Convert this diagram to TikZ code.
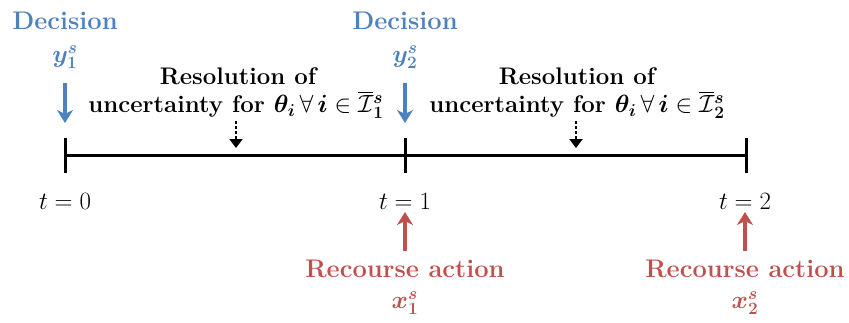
\documentclass[tikz,border=0pt]{standalone}
\usepackage{amsmath,amssymb,bm}
\usetikzlibrary{arrows.meta}
\definecolor{decblue}{RGB}{79,129,189}
\definecolor{recred}{RGB}{192,80,77}
\tikzset{
  lbl/.style={font=\fontsize{25.5}{28}\selectfont\bfseries, inner sep=0pt, anchor=center},
  res/.style={font=\fontsize{24}{27}\selectfont\bfseries, inner sep=0pt, anchor=center},
  mth/.style={font=\fontsize{27}{30}\selectfont, inner sep=0pt, anchor=center},
  tm/.style={font=\fontsize{28}{30}\selectfont, inner sep=0pt, anchor=center},
  axis/.style={line width=3pt},
  tick/.style={line width=3pt},
  decarrow/.style={draw=decblue, line width=4pt, -{Stealth[length=13pt,width=16pt,inset=4pt]}},
  recarrow/.style={draw=recred, line width=4pt, -{Stealth[length=13pt,width=16pt,inset=4pt]}},
  resarrow/.style={line width=2.5pt, dash pattern=on 2.5pt off 2.5pt, -{Triangle[length=9pt,width=13pt]}},
}
\begin{document}
\begin{tikzpicture}[x=1pt,y=-1pt]
\useasboundingbox (0,0) rectangle (849,322);
% timeline
\coordinate (T0) at (65,155);
\coordinate (T1) at (405,155);
\coordinate (T2) at (746,155);
\draw[axis] (T0) -- (T2);
\foreach \n in {T0,T1,T2}{\draw[tick] ([yshift=-18pt]\n) -- ([yshift=17pt]\n);}
% decisions
\node[lbl, text=decblue] (dec1) at (65,21) {Decision};
\node[mth, text=decblue] (y1) at (65,57) {$\bm{y_1^s}$};
\node[lbl, text=decblue] (dec2) at (405,21) {Decision};
\node[mth, text=decblue] (y2) at (405,57) {$\bm{y_2^s}$};
\coordinate (a1s) at (65,83);
\coordinate (a1e) at (65,123);
\coordinate (a2s) at (405,83);
\coordinate (a2e) at (405,123);
\draw[decarrow] (a1s) -- (a1e);
\draw[decarrow] (a2s) -- (a2e);
% resolution
\node[res] (res1) at (238,76) {Resolution of};
\node[res] (unc1) at (236,105) {uncertainty for $\bm{\theta_i}\,\forall\,\bm{i}\in\overline{\mathcal{I}}{}_{\bm{1}}^{\bm{s}}$};
\node[res] (res2) at (577,76) {Resolution of};
\node[res] (unc2) at (577,105) {uncertainty for $\bm{\theta_i}\,\forall\,\bm{i}\in\overline{\mathcal{I}}{}_{\bm{2}}^{\bm{s}}$};
\coordinate (r1s) at (236,121);
\coordinate (r1e) at (236,148);
\coordinate (r2s) at (576,121);
\coordinate (r2e) at (576,148);
\draw[resarrow] (r1s) -- (r1e);
\draw[resarrow] (r2s) -- (r2e);
% times
\node[tm] (t0) at (65,201) {$t=0$};
\node[tm] (t1) at (405,201) {$t=1$};
\node[tm] (t2) at (745,201) {$t=2$};
% recourse
\coordinate (b1s) at (405,251);
\coordinate (b1e) at (405,212);
\coordinate (b2s) at (745,251);
\coordinate (b2e) at (745,212);
\draw[recarrow] (b1s) -- (b1e);
\draw[recarrow] (b2s) -- (b2e);
\node[lbl, text=recred] (rec1) at (405,269) {Recourse action};
\node[mth, text=recred] (x1) at (405,303) {$\bm{x_1^s}$};
\node[lbl, text=recred] (rec2) at (745,269) {Recourse action};
\node[mth, text=recred] (x2) at (745,303) {$\bm{x_2^s}$};
\end{tikzpicture}
\end{document}
